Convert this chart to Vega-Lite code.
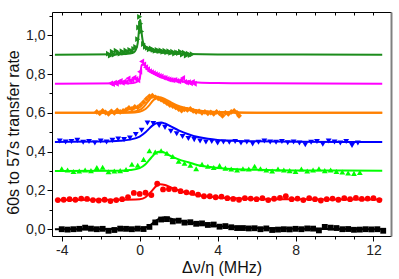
{
"$schema": "https://vega.github.io/schema/vega-lite/v6.json",
"width": 339, "height": 224,
"autosize": "none",
"padding": {"left": 52, "top": 12, "right": 8, "bottom": 43},
"config": {
  "view": {"stroke": null},
  "font": "Liberation Sans",
  "axis": {"grid": false, "domainColor": "#000", "tickColor": "#000", "labelColor": "#222", "titleColor": "#111", "labelFont": "Liberation Sans", "titleFont": "Liberation Sans", "labelFontSize": 14, "titleFontSize": 16, "titleFontWeight": "normal", "domainWidth": 1, "tickWidth": 1}
},
"datasets": {
"pts": [
{"s":"k","x":-4.0,"y":0.000},{"s":"k","x":-3.7,"y":-0.002},{"s":"k","x":-3.4,"y":0.000},{"s":"k","x":-3.1,"y":0.002},{"s":"k","x":-2.8,"y":0.008},{"s":"k","x":-2.5,"y":0.003},{"s":"k","x":-2.2,"y":0.000},{"s":"k","x":-1.9,"y":0.002},{"s":"k","x":-1.6,"y":-0.008},{"s":"k","x":-1.3,"y":-0.004},{"s":"k","x":-1.0,"y":0.003},{"s":"k","x":-0.7,"y":0.002},{"s":"k","x":-0.4,"y":0.000},{"s":"k","x":-0.1,"y":0.003},{"s":"k","x":0.2,"y":0.001},{"s":"k","x":0.5,"y":0.012},{"s":"k","x":0.8,"y":0.035},{"s":"k","x":1.1,"y":0.050},{"s":"k","x":1.4,"y":0.052},{"s":"k","x":1.7,"y":0.040},{"s":"k","x":2.0,"y":0.044},{"s":"k","x":2.3,"y":0.034},{"s":"k","x":2.6,"y":0.036},{"s":"k","x":2.9,"y":0.028},{"s":"k","x":3.2,"y":0.030},{"s":"k","x":3.5,"y":0.022},{"s":"k","x":3.8,"y":0.024},{"s":"k","x":4.1,"y":0.013},{"s":"k","x":4.4,"y":0.016},{"s":"k","x":4.7,"y":0.010},{"s":"k","x":5.0,"y":0.006},{"s":"k","x":5.3,"y":0.006},{"s":"k","x":5.6,"y":0.004},{"s":"k","x":5.9,"y":0.005},{"s":"k","x":6.2,"y":0.000},{"s":"k","x":6.5,"y":0.004},{"s":"k","x":6.8,"y":-0.004},{"s":"k","x":7.1,"y":-0.002},{"s":"k","x":7.4,"y":0.000},{"s":"k","x":7.7,"y":-0.001},{"s":"k","x":8.0,"y":0.002},{"s":"k","x":8.3,"y":0.000},{"s":"k","x":8.6,"y":0.004},{"s":"k","x":8.9,"y":0.003},{"s":"k","x":9.2,"y":-0.006},{"s":"k","x":9.5,"y":0.012},{"s":"k","x":9.8,"y":0.008},{"s":"k","x":10.1,"y":0.006},{"s":"k","x":10.4,"y":0.000},{"s":"k","x":10.7,"y":0.001},{"s":"k","x":11.0,"y":-0.003},{"s":"k","x":11.3,"y":-0.002},{"s":"k","x":11.6,"y":0.000},{"s":"k","x":11.9,"y":-0.001},{"s":"k","x":12.2,"y":0.000},{"s":"k","x":12.5,"y":-0.008},
{"s":"r","x":-4.2,"y":0.150},{"s":"r","x":-3.9,"y":0.152},{"s":"r","x":-3.6,"y":0.155},{"s":"r","x":-3.3,"y":0.152},{"s":"r","x":-3.0,"y":0.158},{"s":"r","x":-2.7,"y":0.156},{"s":"r","x":-2.4,"y":0.150},{"s":"r","x":-2.1,"y":0.148},{"s":"r","x":-1.8,"y":0.152},{"s":"r","x":-1.5,"y":0.145},{"s":"r","x":-1.2,"y":0.150},{"s":"r","x":-0.9,"y":0.155},{"s":"r","x":-0.6,"y":0.165},{"s":"r","x":-0.3,"y":0.187},{"s":"r","x":0.0,"y":0.182},{"s":"r","x":0.3,"y":0.188},{"s":"r","x":0.6,"y":0.176},{"s":"r","x":0.9,"y":0.235},{"s":"r","x":1.2,"y":0.205},{"s":"r","x":1.5,"y":0.207},{"s":"r","x":1.8,"y":0.205},{"s":"r","x":2.1,"y":0.196},{"s":"r","x":2.4,"y":0.190},{"s":"r","x":2.7,"y":0.187},{"s":"r","x":3.0,"y":0.178},{"s":"r","x":3.3,"y":0.170},{"s":"r","x":3.6,"y":0.170},{"s":"r","x":3.9,"y":0.165},{"s":"r","x":4.2,"y":0.168},{"s":"r","x":4.5,"y":0.160},{"s":"r","x":4.8,"y":0.156},{"s":"r","x":5.1,"y":0.152},{"s":"r","x":5.4,"y":0.160},{"s":"r","x":5.7,"y":0.158},{"s":"r","x":6.0,"y":0.155},{"s":"r","x":6.3,"y":0.160},{"s":"r","x":6.6,"y":0.150},{"s":"r","x":6.9,"y":0.157},{"s":"r","x":7.2,"y":0.162},{"s":"r","x":7.5,"y":0.170},{"s":"r","x":7.8,"y":0.155},{"s":"r","x":8.1,"y":0.158},{"s":"r","x":8.4,"y":0.150},{"s":"r","x":8.7,"y":0.160},{"s":"r","x":9.0,"y":0.155},{"s":"r","x":9.3,"y":0.148},{"s":"r","x":9.6,"y":0.155},{"s":"r","x":9.9,"y":0.158},{"s":"r","x":10.2,"y":0.152},{"s":"r","x":10.5,"y":0.160},{"s":"r","x":10.8,"y":0.155},{"s":"r","x":11.1,"y":0.162},{"s":"r","x":11.4,"y":0.156},{"s":"r","x":11.7,"y":0.158},{"s":"r","x":12.0,"y":0.160},{"s":"r","x":12.3,"y":0.150},
{"s":"g","x":-4.0,"y":0.312},{"s":"g","x":-3.7,"y":0.305},{"s":"g","x":-3.4,"y":0.298},{"s":"g","x":-3.1,"y":0.300},{"s":"g","x":-2.8,"y":0.305},{"s":"g","x":-2.5,"y":0.302},{"s":"g","x":-2.2,"y":0.318},{"s":"g","x":-1.9,"y":0.320},{"s":"g","x":-1.6,"y":0.296},{"s":"g","x":-1.3,"y":0.300},{"s":"g","x":-1.0,"y":0.302},{"s":"g","x":-0.7,"y":0.308},{"s":"g","x":-0.4,"y":0.335},{"s":"g","x":-0.1,"y":0.330},{"s":"g","x":0.2,"y":0.360},{"s":"g","x":0.5,"y":0.405},{"s":"g","x":0.8,"y":0.398},{"s":"g","x":1.1,"y":0.405},{"s":"g","x":1.4,"y":0.392},{"s":"g","x":1.7,"y":0.375},{"s":"g","x":2.0,"y":0.350},{"s":"g","x":2.3,"y":0.340},{"s":"g","x":2.6,"y":0.330},{"s":"g","x":2.9,"y":0.312},{"s":"g","x":3.2,"y":0.335},{"s":"g","x":3.5,"y":0.325},{"s":"g","x":3.8,"y":0.318},{"s":"g","x":4.1,"y":0.328},{"s":"g","x":4.4,"y":0.315},{"s":"g","x":4.7,"y":0.310},{"s":"g","x":5.0,"y":0.305},{"s":"g","x":5.3,"y":0.312},{"s":"g","x":5.6,"y":0.310},{"s":"g","x":5.9,"y":0.325},{"s":"g","x":6.2,"y":0.312},{"s":"g","x":6.5,"y":0.305},{"s":"g","x":6.8,"y":0.300},{"s":"g","x":7.1,"y":0.310},{"s":"g","x":7.4,"y":0.305},{"s":"g","x":7.7,"y":0.302},{"s":"g","x":8.0,"y":0.298},{"s":"g","x":8.3,"y":0.310},{"s":"g","x":8.6,"y":0.300},{"s":"g","x":8.9,"y":0.305},{"s":"g","x":9.2,"y":0.312},{"s":"g","x":9.5,"y":0.302},{"s":"g","x":9.8,"y":0.305},{"s":"g","x":10.1,"y":0.298},{"s":"g","x":10.4,"y":0.295},{"s":"g","x":10.7,"y":0.290},{"s":"g","x":11.0,"y":0.288},{"s":"g","x":11.3,"y":0.292},
{"s":"b","x":-4.1,"y":0.455},{"s":"b","x":-3.8,"y":0.450},{"s":"b","x":-3.5,"y":0.452},{"s":"b","x":-3.2,"y":0.458},{"s":"b","x":-2.9,"y":0.448},{"s":"b","x":-2.6,"y":0.452},{"s":"b","x":-2.3,"y":0.445},{"s":"b","x":-2.0,"y":0.455},{"s":"b","x":-1.7,"y":0.450},{"s":"b","x":-1.4,"y":0.458},{"s":"b","x":-1.1,"y":0.465},{"s":"b","x":-0.8,"y":0.462},{"s":"b","x":-0.5,"y":0.470},{"s":"b","x":-0.2,"y":0.488},{"s":"b","x":0.1,"y":0.510},{"s":"b","x":0.4,"y":0.548},{"s":"b","x":0.7,"y":0.545},{"s":"b","x":1.0,"y":0.535},{"s":"b","x":1.3,"y":0.525},{"s":"b","x":1.6,"y":0.505},{"s":"b","x":1.9,"y":0.492},{"s":"b","x":2.2,"y":0.478},{"s":"b","x":2.5,"y":0.468},{"s":"b","x":2.8,"y":0.462},{"s":"b","x":3.1,"y":0.455},{"s":"b","x":3.4,"y":0.450},{"s":"b","x":3.7,"y":0.452},{"s":"b","x":4.0,"y":0.445},{"s":"b","x":4.3,"y":0.450},{"s":"b","x":4.6,"y":0.448},{"s":"b","x":4.9,"y":0.452},{"s":"b","x":5.2,"y":0.445},{"s":"b","x":5.5,"y":0.450},{"s":"b","x":5.8,"y":0.440},{"s":"b","x":6.1,"y":0.448},{"s":"b","x":6.4,"y":0.455},{"s":"b","x":6.7,"y":0.450},{"s":"b","x":7.0,"y":0.448},{"s":"b","x":7.3,"y":0.452},{"s":"b","x":7.6,"y":0.446},{"s":"b","x":7.9,"y":0.450},{"s":"b","x":8.2,"y":0.445},{"s":"b","x":8.5,"y":0.435},{"s":"b","x":8.8,"y":0.448},{"s":"b","x":9.1,"y":0.452},{"s":"b","x":9.4,"y":0.438},{"s":"b","x":9.7,"y":0.455},{"s":"b","x":10.0,"y":0.450},{"s":"b","x":10.3,"y":0.445},{"s":"b","x":10.6,"y":0.452},{"s":"b","x":10.9,"y":0.432},{"s":"b","x":11.2,"y":0.445},
{"s":"o","x":-2.2,"y":0.605},{"s":"o","x":-2.05,"y":0.598},{"s":"o","x":-1.9,"y":0.610},{"s":"o","x":-1.75,"y":0.602},{"s":"o","x":-1.6,"y":0.595},{"s":"o","x":-1.45,"y":0.608},{"s":"o","x":-1.3,"y":0.600},{"s":"o","x":-1.15,"y":0.612},{"s":"o","x":-1.0,"y":0.605},{"s":"o","x":-0.85,"y":0.610},{"s":"o","x":-0.7,"y":0.615},{"s":"o","x":-0.55,"y":0.625},{"s":"o","x":-0.4,"y":0.620},{"s":"o","x":-0.25,"y":0.630},{"s":"o","x":-0.1,"y":0.628},{"s":"o","x":0.05,"y":0.640},{"s":"o","x":0.2,"y":0.655},{"s":"o","x":0.35,"y":0.672},{"s":"o","x":0.5,"y":0.685},{"s":"o","x":0.65,"y":0.688},{"s":"o","x":0.8,"y":0.680},{"s":"o","x":0.95,"y":0.675},{"s":"o","x":1.1,"y":0.668},{"s":"o","x":1.25,"y":0.660},{"s":"o","x":1.4,"y":0.650},{"s":"o","x":1.55,"y":0.640},{"s":"o","x":1.7,"y":0.635},{"s":"o","x":1.85,"y":0.628},{"s":"o","x":2.0,"y":0.620},{"s":"o","x":2.15,"y":0.612},{"s":"o","x":2.3,"y":0.618},{"s":"o","x":2.45,"y":0.615},{"s":"o","x":2.6,"y":0.620},{"s":"o","x":2.75,"y":0.610},{"s":"o","x":2.9,"y":0.605},{"s":"o","x":3.05,"y":0.608},{"s":"o","x":3.2,"y":0.600},{"s":"o","x":3.35,"y":0.605},{"s":"o","x":3.5,"y":0.598},{"s":"o","x":3.65,"y":0.602},{"s":"o","x":3.8,"y":0.595},{"s":"o","x":3.95,"y":0.605},{"s":"o","x":4.1,"y":0.598},{"s":"o","x":4.25,"y":0.585},{"s":"o","x":4.4,"y":0.600},{"s":"o","x":4.55,"y":0.595},{"s":"o","x":4.7,"y":0.605},{"s":"o","x":4.85,"y":0.610},{"s":"o","x":5.0,"y":0.600},{"s":"o","x":5.1,"y":0.585},
{"s":"m","x":-1.5,"y":0.752},{"s":"m","x":-1.4,"y":0.748},{"s":"m","x":-1.3,"y":0.756},{"s":"m","x":-1.2,"y":0.750},{"s":"m","x":-1.1,"y":0.760},{"s":"m","x":-1.0,"y":0.765},{"s":"m","x":-0.9,"y":0.755},{"s":"m","x":-0.8,"y":0.762},{"s":"m","x":-0.7,"y":0.758},{"s":"m","x":-0.6,"y":0.778},{"s":"m","x":-0.5,"y":0.765},{"s":"m","x":-0.4,"y":0.770},{"s":"m","x":-0.3,"y":0.782},{"s":"m","x":-0.2,"y":0.775},{"s":"m","x":-0.1,"y":0.768},{"s":"m","x":0.0,"y":0.812},{"s":"m","x":0.1,"y":0.865},{"s":"m","x":0.2,"y":0.850},{"s":"m","x":0.3,"y":0.835},{"s":"m","x":0.4,"y":0.825},{"s":"m","x":0.5,"y":0.815},{"s":"m","x":0.6,"y":0.810},{"s":"m","x":0.7,"y":0.805},{"s":"m","x":0.8,"y":0.800},{"s":"m","x":0.9,"y":0.795},{"s":"m","x":1.0,"y":0.790},{"s":"m","x":1.1,"y":0.788},{"s":"m","x":1.2,"y":0.782},{"s":"m","x":1.3,"y":0.780},{"s":"m","x":1.4,"y":0.775},{"s":"m","x":1.5,"y":0.772},{"s":"m","x":1.6,"y":0.770},{"s":"m","x":1.7,"y":0.768},{"s":"m","x":1.8,"y":0.770},{"s":"m","x":1.9,"y":0.765},{"s":"m","x":2.0,"y":0.762},{"s":"m","x":2.1,"y":0.768},{"s":"m","x":2.2,"y":0.780},{"s":"m","x":2.3,"y":0.760},{"s":"m","x":2.4,"y":0.756},{"s":"m","x":2.5,"y":0.758},{"s":"m","x":2.6,"y":0.752},{"s":"m","x":2.7,"y":0.760},{"s":"m","x":2.8,"y":0.750},
{"s":"d","x":-1.6,"y":0.905},{"s":"d","x":-1.5,"y":0.895},{"s":"d","x":-1.4,"y":0.915},{"s":"d","x":-1.3,"y":0.900},{"s":"d","x":-1.2,"y":0.920},{"s":"d","x":-1.1,"y":0.910},{"s":"d","x":-1.0,"y":0.905},{"s":"d","x":-0.9,"y":0.918},{"s":"d","x":-0.8,"y":0.910},{"s":"d","x":-0.7,"y":0.922},{"s":"d","x":-0.6,"y":0.912},{"s":"d","x":-0.5,"y":0.925},{"s":"d","x":-0.4,"y":0.918},{"s":"d","x":-0.3,"y":0.930},{"s":"d","x":-0.2,"y":0.940},{"s":"d","x":-0.1,"y":0.980},{"s":"d","x":-0.05,"y":1.040},{"s":"d","x":0.0,"y":1.095},{"s":"d","x":0.05,"y":1.060},{"s":"d","x":0.1,"y":1.020},{"s":"d","x":0.2,"y":0.955},{"s":"d","x":0.3,"y":0.940},{"s":"d","x":0.4,"y":0.935},{"s":"d","x":0.5,"y":0.928},{"s":"d","x":0.6,"y":0.932},{"s":"d","x":0.7,"y":0.925},{"s":"d","x":0.8,"y":0.920},{"s":"d","x":0.9,"y":0.925},{"s":"d","x":1.0,"y":0.918},{"s":"d","x":1.1,"y":0.922},{"s":"d","x":1.2,"y":0.915},{"s":"d","x":1.3,"y":0.920},{"s":"d","x":1.4,"y":0.912},{"s":"d","x":1.5,"y":0.918},{"s":"d","x":1.6,"y":0.910},{"s":"d","x":1.7,"y":0.915},{"s":"d","x":1.8,"y":0.905},{"s":"d","x":1.9,"y":0.912},{"s":"d","x":2.0,"y":0.908},{"s":"d","x":2.1,"y":0.915},{"s":"d","x":2.2,"y":0.900},{"s":"d","x":2.3,"y":0.910},{"s":"d","x":2.4,"y":0.895},{"s":"d","x":2.5,"y":0.905},{"s":"d","x":2.6,"y":0.898},{"s":"d","x":2.7,"y":0.902}
],
"fit": [
{"s":"k","f":"k","x":-4.35,"y":0.0},{"s":"k","f":"k","x":-1.0,"y":0.001},{"s":"k","f":"k","x":0.0,"y":0.003},{"s":"k","f":"k","x":0.3,"y":0.008},{"s":"k","f":"k","x":0.6,"y":0.025},{"s":"k","f":"k","x":0.85,"y":0.045},{"s":"k","f":"k","x":1.05,"y":0.056},{"s":"k","f":"k","x":1.25,"y":0.060},{"s":"k","f":"k","x":1.45,"y":0.058},{"s":"k","f":"k","x":1.7,"y":0.052},{"s":"k","f":"k","x":2.0,"y":0.045},{"s":"k","f":"k","x":2.5,"y":0.036},{"s":"k","f":"k","x":3.0,"y":0.028},{"s":"k","f":"k","x":3.5,"y":0.022},{"s":"k","f":"k","x":4.0,"y":0.017},{"s":"k","f":"k","x":5.0,"y":0.010},{"s":"k","f":"k","x":6.0,"y":0.006},{"s":"k","f":"k","x":8.0,"y":0.003},{"s":"k","f":"k","x":10.0,"y":0.001},{"s":"k","f":"k","x":12.45,"y":0.0},
{"s":"r","f":"r","x":-4.35,"y":0.150},{"s":"r","f":"r","x":-1.0,"y":0.152},{"s":"r","f":"r","x":0.0,"y":0.155},{"s":"r","f":"r","x":0.3,"y":0.165},{"s":"r","f":"r","x":0.6,"y":0.195},{"s":"r","f":"r","x":0.85,"y":0.222},{"s":"r","f":"r","x":1.05,"y":0.232},{"s":"r","f":"r","x":1.3,"y":0.228},{"s":"r","f":"r","x":1.6,"y":0.215},{"s":"r","f":"r","x":2.0,"y":0.200},{"s":"r","f":"r","x":2.5,"y":0.185},{"s":"r","f":"r","x":3.0,"y":0.175},{"s":"r","f":"r","x":3.5,"y":0.168},{"s":"r","f":"r","x":4.0,"y":0.164},{"s":"r","f":"r","x":5.0,"y":0.159},{"s":"r","f":"r","x":6.0,"y":0.156},{"s":"r","f":"r","x":8.0,"y":0.154},{"s":"r","f":"r","x":12.45,"y":0.153},
{"s":"g","f":"g","x":-4.35,"y":0.300},{"s":"g","f":"g","x":-1.0,"y":0.302},{"s":"g","f":"g","x":-0.5,"y":0.305},{"s":"g","f":"g","x":0.0,"y":0.315},{"s":"g","f":"g","x":0.3,"y":0.335},{"s":"g","f":"g","x":0.6,"y":0.370},{"s":"g","f":"g","x":0.85,"y":0.395},{"s":"g","f":"g","x":1.0,"y":0.400},{"s":"g","f":"g","x":1.2,"y":0.398},{"s":"g","f":"g","x":1.5,"y":0.382},{"s":"g","f":"g","x":2.0,"y":0.360},{"s":"g","f":"g","x":2.5,"y":0.345},{"s":"g","f":"g","x":3.0,"y":0.330},{"s":"g","f":"g","x":3.5,"y":0.322},{"s":"g","f":"g","x":4.0,"y":0.316},{"s":"g","f":"g","x":5.0,"y":0.309},{"s":"g","f":"g","x":6.0,"y":0.306},{"s":"g","f":"g","x":8.0,"y":0.303},{"s":"g","f":"g","x":12.45,"y":0.302},
{"s":"b","f":"b","x":-4.35,"y":0.450},{"s":"b","f":"b","x":-2.0,"y":0.452},{"s":"b","f":"b","x":-1.0,"y":0.456},{"s":"b","f":"b","x":-0.5,"y":0.462},{"s":"b","f":"b","x":0.0,"y":0.478},{"s":"b","f":"b","x":0.3,"y":0.500},{"s":"b","f":"b","x":0.5,"y":0.520},{"s":"b","f":"b","x":0.7,"y":0.538},{"s":"b","f":"b","x":0.9,"y":0.548},{"s":"b","f":"b","x":1.1,"y":0.550},{"s":"b","f":"b","x":1.3,"y":0.545},{"s":"b","f":"b","x":1.6,"y":0.530},{"s":"b","f":"b","x":2.0,"y":0.510},{"s":"b","f":"b","x":2.5,"y":0.490},{"s":"b","f":"b","x":3.0,"y":0.475},{"s":"b","f":"b","x":3.5,"y":0.466},{"s":"b","f":"b","x":4.0,"y":0.460},{"s":"b","f":"b","x":5.0,"y":0.455},{"s":"b","f":"b","x":6.0,"y":0.453},{"s":"b","f":"b","x":8.0,"y":0.451},{"s":"b","f":"b","x":12.45,"y":0.450},
{"s":"o","f":"o1","x":-4.35,"y":0.600},{"s":"o","f":"o1","x":-1.0,"y":0.601},{"s":"o","f":"o1","x":-0.5,"y":0.604},{"s":"o","f":"o1","x":0.0,"y":0.615},{"s":"o","f":"o1","x":0.2,"y":0.630},{"s":"o","f":"o1","x":0.4,"y":0.655},{"s":"o","f":"o1","x":0.6,"y":0.678},{"s":"o","f":"o1","x":0.75,"y":0.685},{"s":"o","f":"o1","x":0.9,"y":0.683},{"s":"o","f":"o1","x":1.1,"y":0.672},{"s":"o","f":"o1","x":1.4,"y":0.655},{"s":"o","f":"o1","x":1.8,"y":0.637},{"s":"o","f":"o1","x":2.3,"y":0.622},{"s":"o","f":"o1","x":3.0,"y":0.610},{"s":"o","f":"o1","x":4.0,"y":0.604},{"s":"o","f":"o1","x":6.0,"y":0.601},{"s":"o","f":"o1","x":12.45,"y":0.600},
{"s":"o","f":"o2","x":-4.35,"y":0.600},{"s":"o","f":"o2","x":-0.5,"y":0.601},{"s":"o","f":"o2","x":0.0,"y":0.606},{"s":"o","f":"o2","x":0.3,"y":0.620},{"s":"o","f":"o2","x":0.5,"y":0.640},{"s":"o","f":"o2","x":0.7,"y":0.665},{"s":"o","f":"o2","x":0.9,"y":0.678},{"s":"o","f":"o2","x":1.05,"y":0.680},{"s":"o","f":"o2","x":1.2,"y":0.675},{"s":"o","f":"o2","x":1.5,"y":0.660},{"s":"o","f":"o2","x":1.9,"y":0.640},{"s":"o","f":"o2","x":2.4,"y":0.625},{"s":"o","f":"o2","x":3.0,"y":0.612},{"s":"o","f":"o2","x":4.0,"y":0.605},{"s":"o","f":"o2","x":5.5,"y":0.601},{"s":"o","f":"o2","x":12.45,"y":0.600},
{"s":"m","f":"m","x":-4.35,"y":0.750},{"s":"m","f":"m","x":-0.5,"y":0.752},{"s":"m","f":"m","x":-0.2,"y":0.757},{"s":"m","f":"m","x":0.0,"y":0.775},{"s":"m","f":"m","x":0.1,"y":0.845},{"s":"m","f":"m","x":0.2,"y":0.850},{"s":"m","f":"m","x":0.4,"y":0.828},{"s":"m","f":"m","x":0.7,"y":0.806},{"s":"m","f":"m","x":1.0,"y":0.790},{"s":"m","f":"m","x":1.5,"y":0.775},{"s":"m","f":"m","x":2.0,"y":0.765},{"s":"m","f":"m","x":3.0,"y":0.757},{"s":"m","f":"m","x":4.0,"y":0.754},{"s":"m","f":"m","x":6.0,"y":0.752},{"s":"m","f":"m","x":12.45,"y":0.750},
{"s":"d","f":"d","x":-4.35,"y":0.900},{"s":"d","f":"d","x":-1.0,"y":0.902},{"s":"d","f":"d","x":-0.5,"y":0.906},{"s":"d","f":"d","x":-0.3,"y":0.912},{"s":"d","f":"d","x":-0.2,"y":0.925},{"s":"d","f":"d","x":-0.1,"y":0.960},{"s":"d","f":"d","x":-0.05,"y":1.010},{"s":"d","f":"d","x":0.0,"y":1.070},{"s":"d","f":"d","x":0.03,"y":1.080},{"s":"d","f":"d","x":0.08,"y":1.030},{"s":"d","f":"d","x":0.15,"y":0.975},{"s":"d","f":"d","x":0.25,"y":0.945},{"s":"d","f":"d","x":0.4,"y":0.930},{"s":"d","f":"d","x":0.6,"y":0.920},{"s":"d","f":"d","x":1.0,"y":0.912},{"s":"d","f":"d","x":1.5,"y":0.907},{"s":"d","f":"d","x":2.5,"y":0.903},{"s":"d","f":"d","x":4.0,"y":0.901},{"s":"d","f":"d","x":12.45,"y":0.900}
]
},
"layer": [
{
 "data": {"name": "fit"},
 "transform": [{"filter": "datum.f !== 'o2'"}],
 "mark": {"type": "line", "strokeWidth": 2, "interpolate": "monotone"},
 "encoding": {
  "x": {"field": "x", "type": "quantitative", "scale": {"domain": [-4.5, 12.9], "nice": false, "zero": false},
        "axis": {"orient": "bottom", "values": [-3,-2,-1,1,2,3,5,6,7,9,10,11], "labels": false, "domain": false, "tickSize": 3, "title": null}},
  "y": {"field": "y", "type": "quantitative", "scale": {"domain": [-0.035, 1.12], "nice": false, "zero": false},
        "axis": {"orient": "left", "values": [0.1,0.3,0.5,0.7,0.9,1.1], "labels": false, "domain": false, "tickSize": 3, "title": null}},
  "detail": {"field": "f", "type": "nominal"},
  "color": {"field": "s", "type": "nominal", "legend": null,
            "scale": {"domain": ["k","r","g","b","o","m","d"], "range": ["#000000","#ff0000","#00ff00","#0000ff","#ff8000","#ff00ff","#1c8c1c"]}}
 }
},
{
 "data": {"name": "pts"},
 "mark": {"type": "point", "filled": true, "opacity": 1, "size": 34},
 "encoding": {
  "x": {"field": "x", "type": "quantitative",
        "axis": {"orient": "bottom", "values": [-4,0,4,8,12], "labelExpr": "'' + datum.value", "tickSize": 5, "labelPadding": 2, "title": "Δν/η (MHz)", "titlePadding": 2}},
  "y": {"field": "y", "type": "quantitative",
        "axis": {"orient": "left", "values": [0,0.2,0.4,0.6,0.8,1.0], "labelExpr": "replace(format(datum.value, '.1f'), '.', ',')", "tickSize": 5, "labelPadding": 2, "title": "60s to 57s transfer rate", "titlePadding": 4, "titleY": 120}},
  "color": {"field": "s", "type": "nominal", "legend": null},
  "shape": {"field": "s", "type": "nominal", "legend": null,
            "scale": {"domain": ["k","r","g","b","o","m","d"], "range": ["square","circle","triangle-up","triangle-down","diamond","triangle-left","triangle-right"]}}
 }
},
{
 "data": {"name": "fit"},
 "transform": [{"filter": "datum.f === 'o2'"}],
 "mark": {"type": "line", "strokeWidth": 2, "interpolate": "monotone"},
 "encoding": {
  "x": {"field": "x", "type": "quantitative",
        "axis": {"orient": "top", "values": [-4,-3,-2,-1,0,1,2,3,4,5,6,7,8,9,10,11,12], "labels": false, "tickSize": -3, "domainColor": "#000", "title": null}},
  "y": {"field": "y", "type": "quantitative",
        "axis": {"orient": "right", "values": [], "labels": false, "ticks": false, "domainColor": "#808080", "domainWidth": 2, "title": null}},
  "detail": {"field": "f", "type": "nominal"},
  "color": {"field": "s", "type": "nominal", "legend": null}
 }
}
],
"resolve": {"axis": {"x": "independent", "y": "independent"}}
}
